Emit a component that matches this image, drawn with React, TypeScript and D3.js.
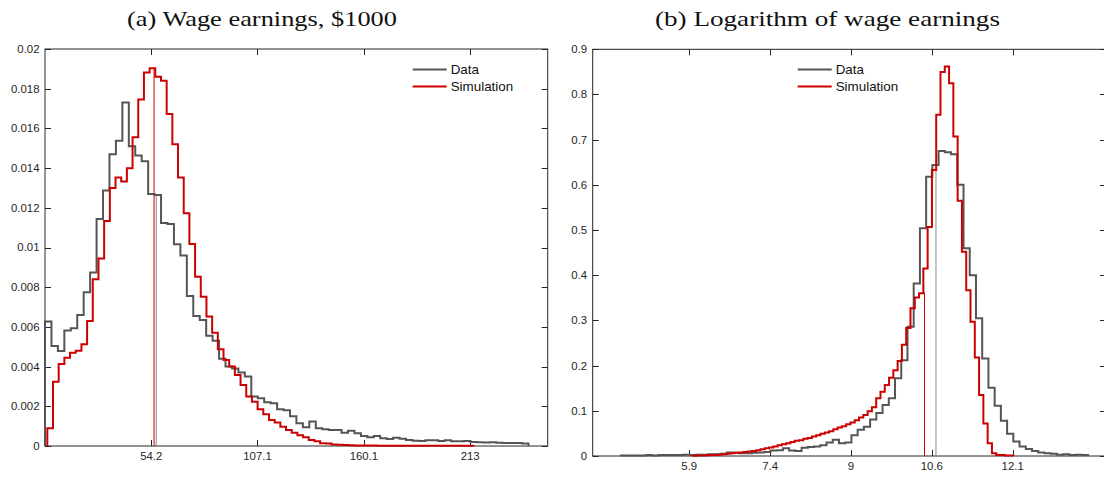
import * as d3 from "d3";
import { useRef, useEffect } from "react";

const width = 1104;
const height = 477;

// (a) wage earnings in $1000
const wageTickValues = [54.2, 107.1, 160.1, 213];
const wageTickLabels = ["54.2", "107.1", "160.1", "213"];
const wageYTicks = [0, 0.002, 0.004, 0.006, 0.008, 0.01, 0.012, 0.014, 0.016, 0.018, 0.02];

const wageDataStart = 1.3;
const wageDataBin = 3.21;
const wageData = [
  0.00627, 0.00504, 0.00479, 0.00582, 0.00593, 0.0066, 0.00775, 0.00874, 0.01143, 0.01287,
  0.0147, 0.01538, 0.01731, 0.0151, 0.01464, 0.01434, 0.01269, 0.01265, 0.01123, 0.01118,
  0.01017, 0.0096, 0.00756, 0.00655, 0.00635, 0.00556, 0.0053, 0.0044, 0.004, 0.0039,
  0.0037, 0.0035, 0.0025, 0.0024, 0.0022, 0.00215, 0.00185, 0.0018, 0.0015, 0.00114,
  0.00094, 0.00123, 0.00089, 0.00084, 0.0008, 0.0008, 0.00067, 0.00077, 0.00064, 0.0005,
  0.00044, 0.0005, 0.00039, 0.00035, 0.00042, 0.00037, 0.0003, 0.00027, 0.00025, 0.00029,
  0.00029, 0.00025, 0.00029, 0.00024, 0.00024, 0.00025, 0.0002, 0.00019, 0.00018, 0.00019,
  0.00017, 0.00015, 0.00015, 0.00015, 0.00013,
];

const wageSimStart = 2.45;
const wageSimBin = 2.83;
const wageSim = [
  0.00089, 0.00324, 0.00413, 0.00445, 0.0047, 0.0048, 0.00512, 0.0063, 0.0084, 0.00944,
  0.01133, 0.013, 0.01353, 0.01332, 0.01399, 0.01555, 0.01746, 0.01881, 0.01903, 0.0186,
  0.0184, 0.01673, 0.0152, 0.01353, 0.01172, 0.01018, 0.00853, 0.00752, 0.00652, 0.00571,
  0.00487, 0.00433, 0.004, 0.00358, 0.00307, 0.00249, 0.00223, 0.00185, 0.0016, 0.00131,
  0.00118, 0.00097, 0.0008, 0.00067, 0.00054, 0.00044, 0.0003, 0.00024, 0.00014, 0.00012,
  0.00008, 0.00006, 0.00005, 0.00004, 0.00003, 0.00002, 0.00002, 0.00002, 0.00001, 0.00001,
  0.00001, 0.00001, 0.00001, 0.00001, 0.00001, 0.00001, 0.00001, 0.00001, 0.00001, 0.00001,
  0.00001, 0.00001, 0.00001, 0.00001, 0.00001,
];
// mean markers: [value, height]
const wageDataMean = [56.7, 0.0127];
const wageSimMean = [55.6, 0.019];

// (b) log of wage earnings
const logTickValues = [5.9, 7.45, 9.0, 10.55, 12.1];
const logTickLabels = ["5.9", "7.4", "9", "10.6", "12.1"];
const logYTicks = [0, 0.1, 0.2, 0.3, 0.4, 0.5, 0.6, 0.7, 0.8, 0.9];

const logDataStart = 4.591;
const logDataBin = 0.1194;
const logData = [
  0.001, 0.001, 0.001, 0.001, 0.002, 0.001, 0.002, 0.002, 0.002, 0.002,
  0.003, 0.002, 0.003, 0.003, 0.004, 0.004, 0.005, 0.008, 0.007, 0.006,
  0.006, 0.007, 0.008, 0.009, 0.012, 0.013, 0.017, 0.012, 0.011, 0.018,
  0.02, 0.021, 0.024, 0.03, 0.036, 0.028, 0.03, 0.046, 0.058, 0.065,
  0.081, 0.095, 0.113, 0.128, 0.172, 0.212, 0.286, 0.382, 0.504, 0.618,
  0.644, 0.675, 0.672, 0.668, 0.6, 0.46, 0.4, 0.305, 0.216, 0.151,
  0.111, 0.078, 0.049, 0.032, 0.021, 0.0155, 0.011, 0.008, 0.006, 0.005,
  0.003, 0.004, 0.002, 0.003, 0.002,
];

const logSimStart = 5.949;
const logSimBin = 0.0822;
const logSim = [
  0.0005, 0.001, 0.001, 0.0015, 0.002, 0.002, 0.003, 0.004, 0.005, 0.006,
  0.007, 0.008, 0.009, 0.01, 0.011, 0.013, 0.015, 0.017, 0.019, 0.021,
  0.024, 0.026, 0.028, 0.031, 0.034, 0.035, 0.038, 0.04, 0.043, 0.046,
  0.049, 0.052, 0.055, 0.059, 0.063, 0.066, 0.07, 0.074, 0.079, 0.085,
  0.091, 0.099, 0.108, 0.128, 0.142, 0.157, 0.173, 0.19, 0.21, 0.246,
  0.283, 0.327, 0.351, 0.36, 0.415, 0.507, 0.633, 0.755, 0.85, 0.862,
  0.825, 0.707, 0.565, 0.452, 0.367, 0.297, 0.218, 0.135, 0.072, 0.028,
  0.006, 0.002, 0.002, 0.001, 0.001,
];
const logDataMean = [10.63, 0.645];
const logSimMean = [10.41, 0.362];

const seriesNames = ["Data", "Simulation"];
const dataColor = "#555555";
const simColor = "#cc0000";

const panels = [
  {
    title: "(a) Wage earnings, $1000", titleX: 262, titleW: 270,
    left: 45, right: 547.7, top: 49, bottom: 446,
    xDomain: [1.3, 251.6], yMax: 0.02,
    xTicks: wageTickValues, xLabels: wageTickLabels, yTicks: wageYTicks,
    data: { start: wageDataStart, bin: wageDataBin, values: wageData, mean: wageDataMean },
    sim: { start: wageSimStart, bin: wageSimBin, values: wageSim, mean: wageSimMean },
    legendX: 412.7,
  },
  {
    title: "(b) Logarithm of wage earnings", titleX: 827.5, titleW: 345,
    left: 592.7, right: 1106, top: 49.3, bottom: 456,
    xDomain: [4.048, 13.89], yMax: 0.9,
    xTicks: logTickValues, xLabels: logTickLabels, yTicks: logYTicks,
    data: { start: logDataStart, bin: logDataBin, values: logData, mean: logDataMean },
    sim: { start: logSimStart, bin: logSimBin, values: logSim, mean: logSimMean },
    legendX: 797.7,
  },
];

const sans = "'Liberation Sans', Arial, Helvetica, sans-serif";

const App = () => {
  const ref = useRef(null);

  useEffect(() => {
    if (!ref.current) return;
    const svg = d3.select(ref.current);
    svg.selectAll("*").remove();

    panels.forEach((p) => {
      const x = d3.scaleLinear().domain(p.xDomain).range([p.left, p.right]);
      const y = d3.scaleLinear().domain([0, p.yMax]).range([p.bottom, p.top]);
      const g = svg.append("g");
      const tick = 6;

      // title
      g.append("text")
        .attr("x", p.titleX - p.titleW / 2)
        .attr("y", 26)
        .attr("textLength", p.titleW)
        .attr("lengthAdjust", "spacingAndGlyphs")
        .attr("font-family", "'Liberation Serif', 'DejaVu Serif', serif")
        .attr("font-size", 21)
        .attr("fill", "#111")
        .text(p.title);

      // box
      g.append("rect")
        .attr("x", p.left).attr("y", p.top)
        .attr("width", p.right - p.left).attr("height", p.bottom - p.top)
        .attr("fill", "none").attr("stroke", "#262626").attr("stroke-width", 1);

      // y ticks, both sides
      p.yTicks.forEach((v) => {
        const yy = Math.round(y(v)) + 0.5;
        g.append("line").attr("x1", p.left).attr("x2", p.left + tick).attr("y1", yy).attr("y2", yy)
          .attr("stroke", "#262626");
        g.append("line").attr("x1", p.right - tick).attr("x2", p.right).attr("y1", yy).attr("y2", yy)
          .attr("stroke", "#262626");
        g.append("text")
          .attr("x", p.left - 5.5).attr("y", y(v)).attr("dy", "0.35em")
          .attr("text-anchor", "end")
          .attr("font-family", sans).attr("font-size", 11.4).attr("fill", "#262626")
          .text(String(+v.toFixed(4)));
      });

      // x ticks, bottom and top
      p.xTicks.forEach((v, i) => {
        const xx = Math.round(x(v)) + 0.5;
        g.append("line").attr("x1", xx).attr("x2", xx).attr("y1", p.bottom).attr("y2", p.bottom - tick)
          .attr("stroke", "#262626");
        g.append("line").attr("x1", xx).attr("x2", xx).attr("y1", p.top).attr("y2", p.top + tick)
          .attr("stroke", "#262626");
        g.append("text")
          .attr("x", x(v)).attr("y", p.bottom + 14)
          .attr("text-anchor", "middle")
          .attr("font-family", sans).attr("font-size", 11.4).attr("fill", "#262626")
          .text(p.xLabels[i]);
      });

      const line = d3.line().x((d) => x(d[0])).y((d) => y(d[1]));
      const stairs = (s) => {
        const pts = [[s.start, 0]];
        s.values.forEach((v, i) => {
          pts.push([s.start + i * s.bin, v]);
          pts.push([s.start + (i + 1) * s.bin, v]);
        });
        pts.push([s.start + s.values.length * s.bin, 0]);
        return pts;
      };

      // mean markers
      [[p.sim.mean, simColor], [p.data.mean, "#8c8c8c"]].forEach(([m, c]) => {
        g.append("line")
          .attr("x1", x(m[0])).attr("x2", x(m[0]))
          .attr("y1", y(0)).attr("y2", y(m[1]))
          .attr("stroke", c).attr("stroke-width", 1);
      });

      // histograms
      g.append("path").attr("d", line(stairs(p.data)))
        .attr("fill", "none").attr("stroke", dataColor).attr("stroke-width", 2)
        .attr("stroke-linejoin", "miter");
      g.append("path").attr("d", line(stairs(p.sim)))
        .attr("fill", "none").attr("stroke", simColor).attr("stroke-width", 2)
        .attr("stroke-linejoin", "miter");

      // legend
      [dataColor, simColor].forEach((c, i) => {
        const ly = 69.5 + i * 17;
        g.append("line")
          .attr("x1", p.legendX).attr("x2", p.legendX + 34)
          .attr("y1", ly).attr("y2", ly)
          .attr("stroke", c).attr("stroke-width", 2);
        g.append("text")
          .attr("x", p.legendX + 38).attr("y", ly).attr("dy", "0.35em")
          .attr("font-family", sans).attr("font-size", 13.4).attr("fill", "#111")
          .text(seriesNames[i]);
      });
    });
  }, []);

  return (
    <svg
      ref={ref}
      width={width}
      height={height}
      style={{ position: "absolute", left: 0, top: 0, background: "#fff" }}
    />
  );
};

export default App;
